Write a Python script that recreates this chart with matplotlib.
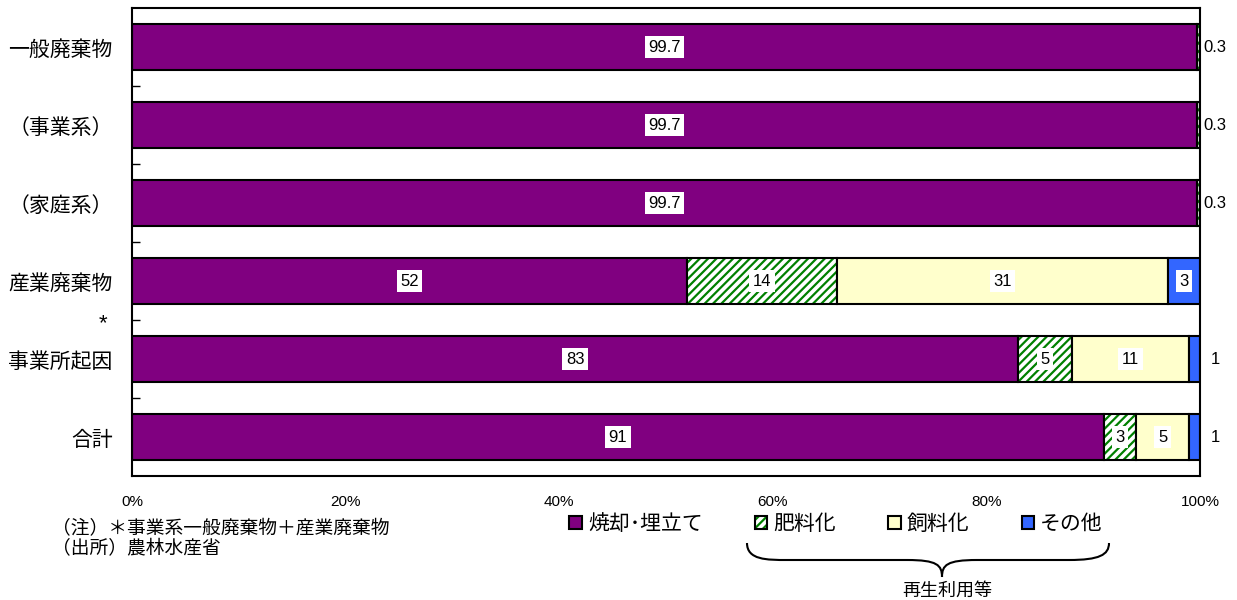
import numpy as np
import matplotlib.pyplot as plt
from matplotlib.patches import Patch, PathPatch
from matplotlib.path import Path

plt.rcParams['font.family'] = ['Noto Sans CJK JP', 'DejaVu Sans']
plt.rcParams['hatch.linewidth'] = 1.6

# composition (%) by waste type
categories = ['一般廃棄物', '（事業系）', '（家庭系）', '産業廃棄物', '事業所起因', '合計']
methods = ['焼却･埋立て', '肥料化', '飼料化', 'その他']
incinerate = [99.7, 99.7, 99.7, 52, 83, 91]
fertilizer = [0.3, 0.3, 0.3, 14, 5, 3]
feed = [0, 0, 0, 31, 11, 5]
other = [0, 0, 0, 3, 1, 1]
xticks = [0, 20, 40, 60, 80, 100]
xticklabels = ['0%', '20%', '40%', '60%', '80%', '100%']

colors = ['#800080', 'white', '#FFFFCC', '#3366FF']
hatches = [None, '////', None, None]
hatch_color = '#008000'

W, H = 1237, 600
fig = plt.figure(figsize=(W / 100, H / 100), dpi=100)
ax = fig.add_axes([132 / W, 1 - 476 / H, (1200 - 132) / W, (476 - 8) / H])

y = np.arange(len(categories))
series = [incinerate, fertilizer, feed, other]
left = np.zeros(len(categories))
num_font = ['Liberation Sans', 'DejaVu Sans']
for vals, col, hat in zip(series, colors, hatches):
    vals = np.array(vals, dtype=float)
    if hat:
        ax.barh(y, vals, left=left, height=0.6, color=col, hatch=hat,
                edgecolor=hatch_color, linewidth=0)
        ax.barh(y, vals, left=left, height=0.6, fill=False,
                edgecolor='black', linewidth=1.5)
    else:
        ax.barh(y, vals, left=left, height=0.6, color=col,
                edgecolor='black', linewidth=1.5)
    for yi, v, l in zip(y, vals, left):
        if v <= 0:
            continue
        txt = f'{v:g}'
        if v < 2:
            ax.text(101.4, yi, txt, ha='center', va='center', fontsize=12,
                    family=num_font, clip_on=False)
        else:
            ax.text(l + v / 2, yi, txt, ha='center', va='center', fontsize=12,
                    family=num_font,
                    bbox=dict(facecolor='white', edgecolor='none', pad=2.5))
    left += vals

ax.set_xlim(0, 100)
ax.set_ylim(len(categories) - 0.5, -0.5)
ax.set_yticks(y)
ax.set_yticklabels(categories, fontsize=15)
ax.set_yticks(np.arange(0.5, len(categories) - 1), minor=True)
ax.tick_params(axis='y', which='major', length=0, pad=14)
ax.tick_params(axis='y', which='minor', direction='in', length=6, width=1)
ax.set_xticks(xticks)
ax.set_xticklabels(xticklabels, fontsize=11,
                   family=['Liberation Sans Narrow', 'Liberation Sans'])
ax.tick_params(axis='x', length=0, pad=14)
for s in ax.spines.values():
    s.set_linewidth(1.5)

# footnote marker for the combined row
fig.text(103 / W, 1 - 324 / H, '*', ha='center', va='center', fontsize=16,
         family=num_font)

# notes
fig.text(52 / W, 1 - 529 / H, '（注）＊事業系一般廃棄物＋産業廃棄物', ha='left',
         va='center', fontsize=13.5)
fig.text(52 / W, 1 - 549 / H, '（出所）農林水産省', ha='left', va='center',
         fontsize=13.5)

# legend
handles = [
    Patch(facecolor=colors[0], edgecolor='black', linewidth=1.5),
    (Patch(facecolor='white', edgecolor=hatch_color, hatch='////', linewidth=0),
     Patch(fill=False, edgecolor='black', linewidth=1.5)),
    Patch(facecolor=colors[2], edgecolor='black', linewidth=1.5),
    Patch(facecolor=colors[3], edgecolor='black', linewidth=1.5),
]
fig.legend(handles, methods, loc='center', ncol=4,
           bbox_to_anchor=(836 / W, 1 - 524 / H), frameon=False,
           fontsize=15, handlelength=0.6, handleheight=0.6,
           handletextpad=0.3, columnspacing=2.5, borderpad=0,
           borderaxespad=0)

# brace grouping the recycling methods
def fx(px):
    return px / W


def fy(py):
    return 1 - py / H


xl, xr, xm = 747, 1109, 942
yt, yh, yb = 543, 560, 577
verts = [
    (fx(xl), fy(yt)),
    (fx(xl), fy(yh)), (fx(xl + 20), fy(yh)), (fx(xl + 40), fy(yh)),
    (fx(xm - 35), fy(yh)),
    (fx(xm - 5), fy(yh)), (fx(xm), fy(yh + 5)), (fx(xm), fy(yb)),
    (fx(xm), fy(yh + 5)), (fx(xm + 5), fy(yh)), (fx(xm + 35), fy(yh)),
    (fx(xr - 40), fy(yh)),
    (fx(xr - 10), fy(yh)), (fx(xr), fy(yh - 5)), (fx(xr), fy(yt)),
]
codes = [Path.MOVETO,
         Path.CURVE4, Path.CURVE4, Path.CURVE4,
         Path.LINETO,
         Path.CURVE4, Path.CURVE4, Path.CURVE4,
         Path.CURVE4, Path.CURVE4, Path.CURVE4,
         Path.LINETO,
         Path.CURVE4, Path.CURVE4, Path.CURVE4]
fig.add_artist(PathPatch(Path(verts, codes), fill=False, edgecolor='black',
                         linewidth=1.5, transform=fig.transFigure))
fig.text(fx(947), fy(591), '再生利用等', ha='center', va='center', fontsize=13)

fig.savefig('out.png', dpi=100)
